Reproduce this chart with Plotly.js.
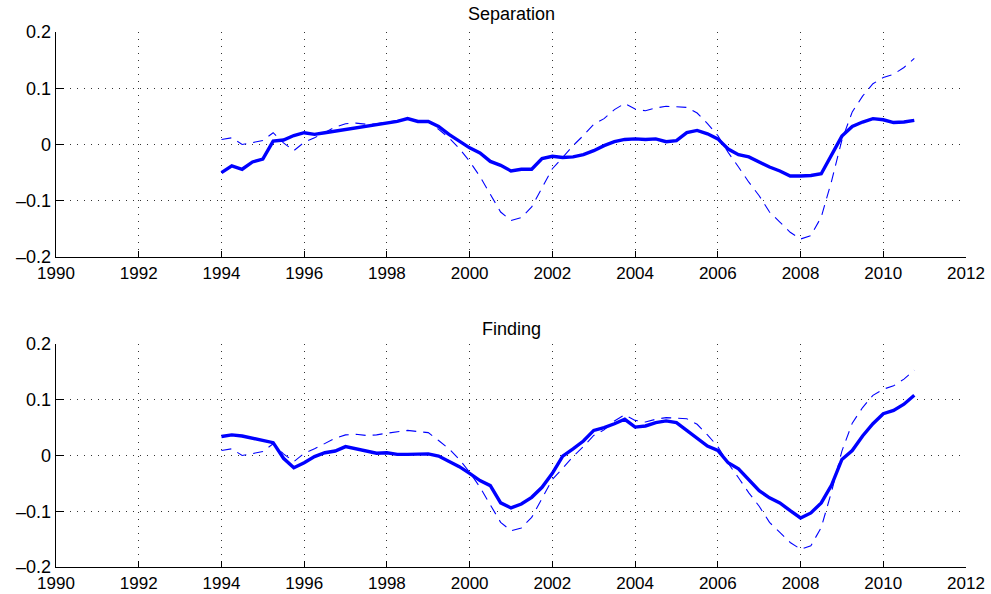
<!DOCTYPE html>
<html>
<head>
<meta charset="utf-8">
<script src="https://cdn.plot.ly/plotly-3.0.1.min.js"></script>
<style>html,body{margin:0;padding:0;background:#fff;}#chart{width:991px;height:594px;}</style>
</head>
<body>
<div id="chart"></div>
<script>
// Quarterly dates 1994Q1 .. 2010Q4
var quarters = [
  1994.00,1994.25,1994.50,1994.75,1995.00,1995.25,1995.50,1995.75,
  1996.00,1996.25,1996.50,1996.75,1997.00,1997.25,1997.50,1997.75,
  1998.00,1998.25,1998.50,1998.75,1999.00,1999.25,1999.50,1999.75,
  2000.00,2000.25,2000.50,2000.75,2001.00,2001.25,2001.50,2001.75,
  2002.00,2002.25,2002.50,2002.75,2003.00,2003.25,2003.50,2003.75,
  2004.00,2004.25,2004.50,2004.75,2005.00,2005.25,2005.50,2005.75,
  2006.00,2006.25,2006.50,2006.75,2007.00,2007.25,2007.50,2007.75,
  2008.00,2008.25,2008.50,2008.75,2009.00,2009.25,2009.50,2009.75,
  2010.00,2010.25,2010.50,2010.75
];

// Separation (solid)
var separation = [
  -0.050,-0.038,-0.044,-0.031,-0.026,0.006,0.008,0.016,
  0.021,0.018,0.021,0.024,0.026,0.030,0.033,0.036,
  0.038,0.041,0.046,0.041,0.041,0.032,0.018,0.006,
  -0.006,-0.015,-0.030,-0.037,-0.047,-0.044,-0.044,-0.025,
  -0.021,-0.023,-0.022,-0.018,-0.011,-0.002,0.005,0.009,
  0.010,0.009,0.010,0.005,0.007,0.021,0.025,0.019,
  0.010,-0.008,-0.018,-0.022,-0.031,-0.040,-0.047,-0.056,
  -0.056,-0.055,-0.052,-0.020,0.015,0.032,0.040,0.046,
  0.044,0.039,0.040,0.043
];

// Finding (solid)
var finding = [
  0.034,0.037,0.035,0.031,0.026,0.023,-0.005,-0.022,
  -0.013,-0.002,0.005,0.008,0.016,0.012,0.007,0.004,
  0.005,0.002,0.002,0.002,0.003,-0.001,-0.010,-0.020,
  -0.032,-0.045,-0.054,-0.085,-0.094,-0.087,-0.075,-0.057,
  -0.032,-0.001,0.012,0.026,0.045,0.050,0.057,0.065,
  0.051,0.053,0.059,0.062,0.059,0.045,0.031,0.017,
  0.009,-0.013,-0.024,-0.044,-0.063,-0.076,-0.085,-0.099,
  -0.112,-0.103,-0.085,-0.053,-0.007,0.009,0.035,0.057,
  0.075,0.081,0.092,0.108
];

// Dashed comparison series (same in both panels)
var comparison = [
  0.009,0.012,0.000,0.004,0.007,0.021,0.003,-0.011,
  0.004,0.012,0.022,0.031,0.037,0.038,0.036,0.037,
  0.040,0.043,0.045,0.043,0.041,0.027,0.012,-0.007,
  -0.030,-0.057,-0.088,-0.120,-0.135,-0.130,-0.111,-0.076,
  -0.043,-0.023,-0.002,0.016,0.036,0.046,0.062,0.073,
  0.063,0.060,0.065,0.068,0.067,0.066,0.056,0.037,
  0.016,-0.014,-0.040,-0.067,-0.091,-0.120,-0.138,-0.156,
  -0.168,-0.162,-0.129,-0.065,0.008,0.058,0.086,0.108,
  0.119,0.125,0.137,0.153
];

var panelTitles = ["Separation", "Finding"];
var xTicks = [1990,1992,1994,1996,1998,2000,2002,2004,2006,2008,2010,2012];
var yTicks = [-0.2,-0.1,0,0.1,0.2];
var yTickText = ["\u20130.2","\u20130.1","0","0.1","0.2"];

var blue = "#0000ff";
var font = "Liberation Sans, Arial, Helvetica, sans-serif";

var traces = [
  {x: quarters, y: comparison, xaxis: "x", yaxis: "y", mode: "lines",
   line: {color: blue, width: 1.1, dash: "10px,7px"}, hoverinfo: "skip"},
  {x: quarters, y: separation, xaxis: "x", yaxis: "y", mode: "lines",
   line: {color: blue, width: 3.4}},
  {x: quarters, y: comparison, xaxis: "x2", yaxis: "y2", mode: "lines",
   line: {color: blue, width: 1.1, dash: "10px,7px"}, hoverinfo: "skip"},
  {x: quarters, y: finding, xaxis: "x2", yaxis: "y2", mode: "lines",
   line: {color: blue, width: 3.4}}
];

function xaxisDef(anchor) {
  return {
    anchor: anchor, domain: [0, 1], range: [1990, 2012],
    tickmode: "array", tickvals: xTicks, ticktext: xTicks.map(String),
    ticks: "inside", ticklen: 6, tickcolor: "#000", tickwidth: 1,
    showline: true, linecolor: "#000", linewidth: 1.3,
    showgrid: true, gridcolor: "#333", griddash: "1px,6px", gridwidth: 1,
    zeroline: false, tickfont: {family: font, size: 17, color: "#000"}
  };
}
function yaxisDef(anchor, dom) {
  return {
    anchor: anchor, domain: dom, range: [-0.2, 0.2],
    tickmode: "array", tickvals: yTicks, ticktext: yTickText,
    ticks: "inside", ticklen: 8, tickcolor: "#000", tickwidth: 1,
    showline: true, linecolor: "#000", linewidth: 1.3,
    showgrid: true, gridcolor: "#333", griddash: "1px,6px", gridwidth: 1,
    zeroline: false, tickfont: {family: font, size: 18, color: "#000"}
  };
}

var layout = {
  width: 991, height: 594,
  margin: {l: 56, r: 25, t: 32, b: 27},
  paper_bgcolor: "#fff", plot_bgcolor: "#fff",
  showlegend: false,
  xaxis: xaxisDef("y"),
  yaxis: yaxisDef("x", [0.5794, 1]),
  xaxis2: xaxisDef("y2"),
  yaxis2: yaxisDef("x2", [0, 0.4168]),
  annotations: [
    {text: panelTitles[0], xref: "paper", yref: "paper", x: 0.5, y: (567 - 14) / 535,
     xanchor: "center", yanchor: "middle", showarrow: false,
     font: {family: font, size: 18, color: "#000"}},
    {text: panelTitles[1], xref: "paper", yref: "paper", x: 0.5, y: (567 - 328.5) / 535,
     xanchor: "center", yanchor: "middle", showarrow: false,
     font: {family: font, size: 18, color: "#000"}}
  ]
};

Plotly.newPlot("chart", traces, layout, {displayModeBar: false, staticPlot: true});
</script>
</body>
</html>
